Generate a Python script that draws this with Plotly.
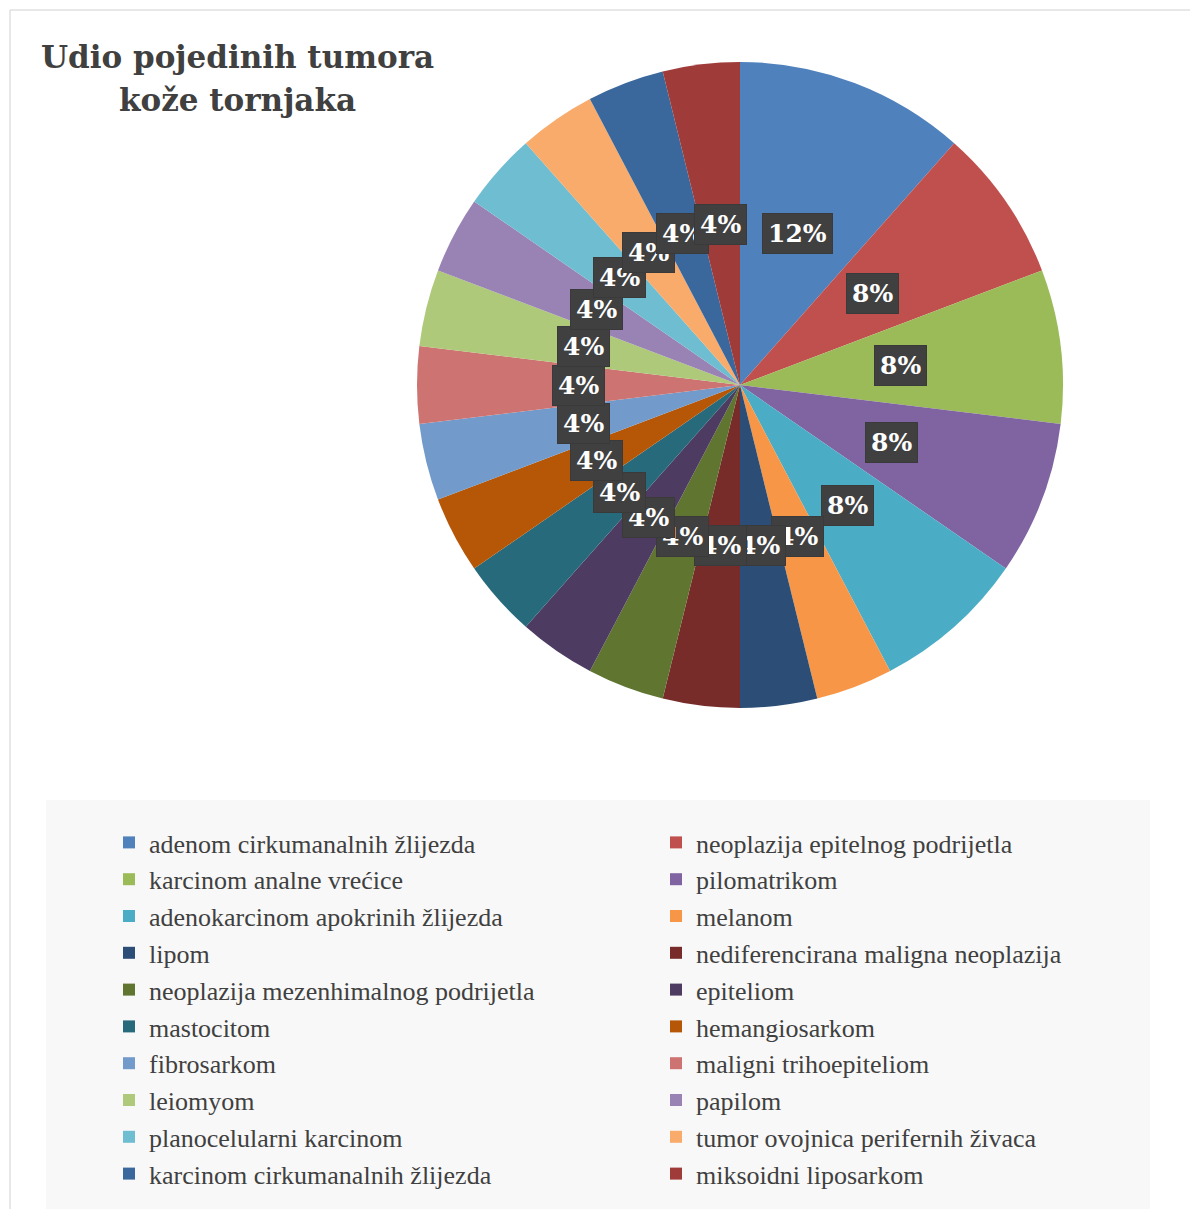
import math
import plotly.graph_objects as go

labels = [
    "adenom cirkumanalnih žlijezda", "neoplazija epitelnog podrijetla",
    "karcinom analne vrećice", "pilomatrikom",
    "adenokarcinom apokrinih žlijezda", "melanom",
    "lipom", "nediferencirana maligna neoplazija",
    "neoplazija mezenhimalnog podrijetla", "epiteliom",
    "mastocitom", "hemangiosarkom",
    "fibrosarkom", "maligni trihoepiteliom",
    "leiomyom", "papilom",
    "planocelularni karcinom", "tumor ovojnica perifernih živaca",
    "karcinom cirkumanalnih žlijezda", "miksoidni liposarkom",
]
values = [3, 2, 2, 2, 2, 1, 1, 1, 1, 1, 1, 1, 1, 1, 1, 1, 1, 1, 1, 1]
colors = [
    "#4F81BD", "#C0504D", "#9BBB59", "#8064A2", "#4BACC6", "#F79646",
    "#2C4D75", "#772C2A", "#5F7530", "#4D3B62", "#276A7C", "#B65708",
    "#729ACA", "#CD7371", "#AFC97A", "#9983B5", "#6FBDD1", "#F9AB6B",
    "#3A679C", "#9F3B38",
]
title_lines = ["Udio pojedinih tumora", "kože tornjaka"]

W, H = 1198, 1209
OFF = 8  # page body margin offset


def px_x(px):
    return (px - OFF) / W


def px_y(py):
    return 1 - (py - OFF) / H


cx_px, cy_px, R = 740, 385, 323
dom_x = [px_x(cx_px - R), px_x(cx_px + R)]
dom_y = [px_y(cy_px + R), px_y(cy_px - R)]

fig = go.Figure()
fig.add_trace(go.Pie(
    labels=labels, values=values, sort=False, direction="clockwise", rotation=0,
    marker=dict(colors=colors, line=dict(width=0)),
    textinfo="none", hoverinfo="label+percent",
    domain=dict(x=dom_x, y=dom_y),
))

# data labels (percent) at half radius, boxed like the original
total = sum(values)
annotations = []
cum = 0
for v in values:
    mid = (cum + v / 2) / total * 2 * math.pi
    cum += v
    px = cx_px + 0.5 * R * math.sin(mid)
    py = cy_px - 0.5 * R * math.cos(mid)
    annotations.append(dict(
        x=px_x(px), y=px_y(py), xref="paper", yref="paper",
        text=f"{round(100 * v / total)}%", showarrow=False,
        xanchor="center", yanchor="middle",
        font=dict(family="DejaVu Serif", size=25, color="white", weight="bold"),
        bgcolor="#404040", bordercolor="#3a3a3a", borderwidth=1, borderpad=5,
    ))

for line, ty in zip(title_lines, [57, 100]):
    annotations.append(dict(
        x=px_x(237), y=px_y(ty), xref="paper", yref="paper",
        text=line, showarrow=False, xanchor="center", yanchor="middle",
        font=dict(family="DejaVu Serif", size=31, color="#404040", weight="bold"),
    ))

shapes = [
    dict(type="rect", xref="paper", yref="paper", x0=px_x(10), x1=1.01, y0=-0.01, y1=px_y(10),
         line=dict(color="#d0d0d0", width=1), fillcolor="white", layer="below"),
    dict(type="rect", xref="paper", yref="paper", x0=px_x(46), x1=px_x(1150), y0=-0.01, y1=px_y(800),
         line=dict(width=0), fillcolor="#f8f8f8", layer="below"),
]

fig.update_layout(
    width=W, height=H, margin=dict(l=0, r=0, t=0, b=0),
    paper_bgcolor="white", plot_bgcolor="white",
    annotations=annotations, shapes=shapes,
    showlegend=True,
    legend=dict(
        orientation="h", x=px_x(109), y=px_y(819), xanchor="left", yanchor="top",
        entrywidth=502, entrywidthmode="pixels", traceorder="normal",
        bgcolor="rgba(0,0,0,0)",
        font=dict(family="Liberation Serif", size=26, color="#404040"),
    ),
)

fig.write_html("out.html")
